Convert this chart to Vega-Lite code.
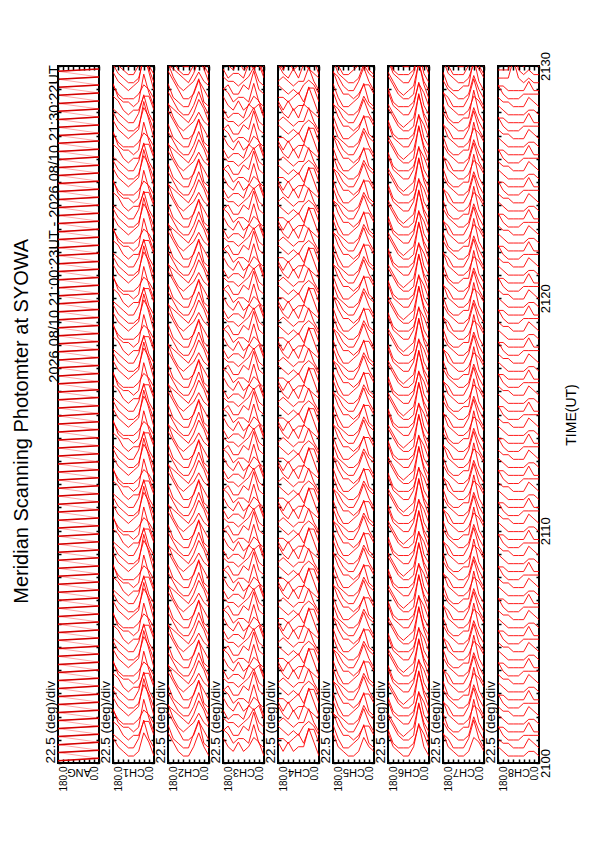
{
  "$schema": "https://vega.github.io/schema/vega-lite/v6.json",
  "background": "white",
  "padding": {"left": 12, "top": 50, "right": 5, "bottom": 5},
  "title": {"text": "Meridian Scanning Photomter at SYOWA", "orient": "left", "anchor": "middle", "fontSize": 20, "fontWeight": "normal", "offset": 10},
  "config": {
    "font": "Liberation Sans",
    "title": {"color": "black"},
    "view": {"stroke": "black", "strokeWidth": 2},
    "line": {"color": "red", "strokeWidth": 0.9},
    "axis": {"domain": false, "grid": false, "tickColor": "black", "tickWidth": 1.5, "labelColor": "black", "titleColor": "black", "titleFontWeight": "normal", "labelFlush": false, "labelOverlap": false, "labelBound": false},
    "axisBottom": {"tickSize": -4, "labelAngle": 270, "labelFontSize": 10, "labelPadding": 7, "titleAngle": 180, "titleFontSize": 11, "titleBaseline": "bottom", "titleY": 3},
    "axisTop": {"tickSize": -4, "labels": false},
    "axisLeft": {"tickSize": -3, "labels": false, "titleFontSize": 13.5, "titleAnchor": "start", "titleAngle": 270, "titlePadding": 0},
    "axisRight": {"tickSize": -3, "labels": false}
  },
  "datasets": {
    "scans": [
      {"t":0.1,"a":[180,157.5,135,112.5,90,67.5,45,22.5,0],"c1":[5,3,2,1,1,2,6,4,1],"c2":[6,4,2,1,1,3,6,3,1],"c3":[5,3,2,4,2,3,5,4,1],"c4":[4,2,4,2,3,3,7,4,1],"c5":[6,3,2,1,1,2,5,3,2],"c6":[6,3,2,1,1,3,8,3,1],"c7":[6,3,2,1,1,2,5,4,2],"c8":[3,2,1,1,1,1,2,2,1]},
      {"t":0.45,"a":[180,157.5,135,112.5,90,67.5,45,22.5,0],"c1":[4,3,2,1,1,3,7,3,1],"c2":[6,3,2,1,1,4,7,2,1],"c3":[5,4,2,3,3,2,6,2,1],"c4":[3,3,2,3,4,2,5,5,2],"c5":[6,3,1,1,2,3,6,2,1],"c6":[5,2,1,1,1,2,6,4,1],"c7":[4,3,1,1,1,3,7,3,1],"c8":[3,2,2,1,1,1,3,2,1]},
      {"t":0.79,"a":[180,157.5,135,112.5,90,67.5,45,22.5,0],"c1":[5,4,2,1,2,2,5,5,2],"c2":[7,5,3,1,1,2,5,3,1],"c3":[3,4,2,2,4,3,7,3,2],"c4":[4,3,2,3,2,4,5,4,2],"c5":[7,4,2,2,1,2,4,4,2],"c6":[6,4,2,1,1,2,9,4,1],"c7":[5,3,2,1,1,2,6,3,1],"c8":[4,2,1,1,1,2,2,2,2]},
      {"t":1.14,"a":[180,157.5,135,112.5,90,67.5,45,22.5,0],"c1":[6,3,2,2,1,2,8,4,1],"c2":[7,4,2,1,2,3,5,3,2],"c3":[4,3,3,2,3,4,6,3,2],"c4":[3,4,3,2,3,3,6,3,1],"c5":[5,4,2,1,1,3,6,3,1],"c6":[5,3,1,0,1,2,7,3,1],"c7":[5,2,1,1,2,2,8,3,1],"c8":[2,2,1,1,1,1,3,1,1]},
      {"t":1.48,"a":[180,157.5,135,112.5,90,67.5,45,22.5,0],"c1":[4,2,1,1,1,2,4,3,1],"c2":[5,4,3,2,1,3,6,4,1],"c3":[4,2,3,3,2,5,4,5,2],"c4":[5,3,2,4,2,5,4,3,2],"c5":[6,3,2,1,1,2,5,3,2],"c6":[6,3,2,1,1,3,8,3,1],"c7":[6,3,2,1,1,2,5,4,2],"c8":[3,2,1,1,1,1,2,2,1]},
      {"t":1.83,"a":[180,157.5,135,112.5,90,67.5,45,22.5,0],"c1":[5,3,2,1,2,3,9,5,1],"c2":[6,4,2,1,1,3,6,3,1],"c3":[5,3,2,4,2,3,5,4,1],"c4":[4,2,4,2,3,3,7,4,1],"c5":[6,3,1,1,2,3,6,2,1],"c6":[5,2,1,1,1,2,6,4,1],"c7":[4,3,1,1,1,3,7,3,1],"c8":[3,2,2,1,1,1,3,2,1]},
      {"t":2.17,"a":[180,157.5,135,112.5,90,67.5,45,22.5,0],"c1":[5,3,2,1,1,2,6,4,1],"c2":[6,3,2,1,1,4,7,2,1],"c3":[5,4,2,3,3,2,6,2,1],"c4":[3,3,2,3,4,2,5,5,2],"c5":[7,4,2,2,1,2,4,4,2],"c6":[6,4,2,1,1,2,9,4,1],"c7":[5,3,2,1,1,2,6,3,1],"c8":[4,2,1,1,1,2,2,2,2]},
      {"t":2.52,"a":[180,157.5,135,112.5,90,67.5,45,22.5,0],"c1":[4,3,2,1,1,3,7,3,1],"c2":[7,5,3,1,1,2,5,3,1],"c3":[3,4,2,2,4,3,7,3,2],"c4":[4,3,2,3,2,4,5,4,2],"c5":[5,4,2,1,1,3,6,3,1],"c6":[5,3,1,0,1,2,7,3,1],"c7":[5,2,1,1,2,2,8,3,1],"c8":[2,2,1,1,1,1,3,1,1]},
      {"t":2.86,"a":[180,157.5,135,112.5,90,67.5,45,22.5,0],"c1":[5,4,2,1,2,2,5,5,2],"c2":[7,4,2,1,2,3,5,3,2],"c3":[4,3,3,2,3,4,6,3,2],"c4":[3,4,3,2,3,3,6,3,1],"c5":[6,3,2,1,1,2,5,3,2],"c6":[6,3,2,1,1,3,8,3,1],"c7":[6,3,2,1,1,2,5,4,2],"c8":[3,2,1,1,1,1,2,2,1]},
      {"t":3.21,"a":[180,157.5,135,112.5,90,67.5,45,22.5,0],"c1":[6,3,2,2,1,2,8,4,1],"c2":[5,4,3,2,1,3,6,4,1],"c3":[4,2,3,3,2,5,4,5,2],"c4":[5,3,2,4,2,5,4,3,2],"c5":[6,3,1,1,2,3,6,2,1],"c6":[5,2,1,1,1,2,6,4,1],"c7":[4,3,1,1,1,3,7,3,1],"c8":[3,2,2,1,1,1,3,2,1]},
      {"t":3.55,"a":[180,157.5,135,112.5,90,67.5,45,22.5,0],"c1":[4,2,1,1,1,2,4,3,1],"c2":[6,4,2,1,1,3,6,3,1],"c3":[5,3,2,4,2,3,5,4,1],"c4":[4,2,4,2,3,3,7,4,1],"c5":[7,4,2,2,1,2,4,4,2],"c6":[6,4,2,1,1,2,9,4,1],"c7":[5,3,2,1,1,2,6,3,1],"c8":[4,2,1,1,1,2,2,2,2]},
      {"t":3.9,"a":[180,157.5,135,112.5,90,67.5,45,22.5,0],"c1":[5,3,2,1,2,3,9,5,1],"c2":[6,3,2,1,1,4,7,2,1],"c3":[5,4,2,3,3,2,6,2,1],"c4":[3,3,2,3,4,2,5,5,2],"c5":[5,4,2,1,1,3,6,3,1],"c6":[5,3,1,0,1,2,7,3,1],"c7":[5,2,1,1,2,2,8,3,1],"c8":[2,2,1,1,1,1,3,1,1]},
      {"t":4.24,"a":[180,157.5,135,112.5,90,67.5,45,22.5,0],"c1":[5,3,2,1,1,2,6,4,1],"c2":[7,5,3,1,1,2,5,3,1],"c3":[3,4,2,2,4,3,7,3,2],"c4":[4,3,2,3,2,4,5,4,2],"c5":[6,3,2,1,1,2,5,3,2],"c6":[6,3,2,1,1,3,8,3,1],"c7":[6,3,2,1,1,2,5,4,2],"c8":[3,2,1,1,1,1,2,2,1]},
      {"t":4.59,"a":[180,157.5,135,112.5,90,67.5,45,22.5,0],"c1":[4,3,2,1,1,3,7,3,1],"c2":[7,4,2,1,2,3,5,3,2],"c3":[4,3,3,2,3,4,6,3,2],"c4":[3,4,3,2,3,3,6,3,1],"c5":[6,3,1,1,2,3,6,2,1],"c6":[5,2,1,1,1,2,6,4,1],"c7":[4,3,1,1,1,3,7,3,1],"c8":[3,2,2,1,1,1,3,2,1]},
      {"t":4.93,"a":[180,157.5,135,112.5,90,67.5,45,22.5,0],"c1":[5,4,2,1,2,2,5,5,2],"c2":[5,4,3,2,1,3,6,4,1],"c3":[4,2,3,3,2,5,4,5,2],"c4":[5,3,2,4,2,5,4,3,2],"c5":[7,4,2,2,1,2,4,4,2],"c6":[6,4,2,1,1,2,9,4,1],"c7":[5,3,2,1,1,2,6,3,1],"c8":[4,2,1,1,1,2,2,2,2]},
      {"t":5.28,"a":[180,157.5,135,112.5,90,67.5,45,22.5,0],"c1":[6,3,2,2,1,2,8,4,1],"c2":[6,4,2,1,1,3,6,3,1],"c3":[5,3,2,4,2,3,5,4,1],"c4":[4,2,4,2,3,3,7,4,1],"c5":[5,4,2,1,1,3,6,3,1],"c6":[5,3,1,0,1,2,7,3,1],"c7":[5,2,1,1,2,2,8,3,1],"c8":[2,2,1,1,1,1,3,1,1]},
      {"t":5.62,"a":[180,157.5,135,112.5,90,67.5,45,22.5,0],"c1":[4,2,1,1,1,2,4,3,1],"c2":[6,3,2,1,1,4,7,2,1],"c3":[5,4,2,3,3,2,6,2,1],"c4":[3,3,2,3,4,2,5,5,2],"c5":[6,3,2,1,1,2,5,3,2],"c6":[6,3,2,1,1,3,8,3,1],"c7":[6,3,2,1,1,2,5,4,2],"c8":[3,2,1,1,1,1,2,2,1]},
      {"t":5.97,"a":[180,157.5,135,112.5,90,67.5,45,22.5,0],"c1":[5,3,2,1,2,3,9,5,1],"c2":[7,5,3,1,1,2,5,3,1],"c3":[3,4,2,2,4,3,7,3,2],"c4":[4,3,2,3,2,4,5,4,2],"c5":[6,3,1,1,2,3,6,2,1],"c6":[5,2,1,1,1,2,6,4,1],"c7":[4,3,1,1,1,3,7,3,1],"c8":[3,2,2,1,1,1,3,2,1]},
      {"t":6.31,"a":[180,157.5,135,112.5,90,67.5,45,22.5,0],"c1":[5,3,2,1,1,2,6,4,1],"c2":[7,4,2,1,2,3,5,3,2],"c3":[4,3,3,2,3,4,6,3,2],"c4":[3,4,3,2,3,3,6,3,1],"c5":[7,4,2,2,1,2,4,4,2],"c6":[6,4,2,1,1,2,9,4,1],"c7":[5,3,2,1,1,2,6,3,1],"c8":[4,2,1,1,1,2,2,2,2]},
      {"t":6.66,"a":[180,157.5,135,112.5,90,67.5,45,22.5,0],"c1":[4,3,2,1,1,3,7,3,1],"c2":[5,4,3,2,1,3,6,4,1],"c3":[4,2,3,3,2,5,4,5,2],"c4":[5,3,2,4,2,5,4,3,2],"c5":[5,4,2,1,1,3,6,3,1],"c6":[5,3,1,0,1,2,7,3,1],"c7":[5,2,1,1,2,2,8,3,1],"c8":[2,2,1,1,1,1,3,1,1]},
      {"t":7.0,"a":[180,157.5,135,112.5,90,67.5,45,22.5,0],"c1":[5,4,2,1,2,2,5,5,2],"c2":[6,4,2,1,1,3,6,3,1],"c3":[5,3,2,4,2,3,5,4,1],"c4":[4,2,4,2,3,3,7,4,1],"c5":[6,3,2,1,1,2,5,3,2],"c6":[6,3,2,1,1,3,8,3,1],"c7":[6,3,2,1,1,2,5,4,2],"c8":[3,2,1,1,1,1,2,2,1]},
      {"t":7.35,"a":[180,157.5,135,112.5,90,67.5,45,22.5,0],"c1":[6,3,2,2,1,2,8,4,1],"c2":[6,3,2,1,1,4,7,2,1],"c3":[5,4,2,3,3,2,6,2,1],"c4":[3,3,2,3,4,2,5,5,2],"c5":[6,3,1,1,2,3,6,2,1],"c6":[5,2,1,1,1,2,6,4,1],"c7":[4,3,1,1,1,3,7,3,1],"c8":[3,2,2,1,1,1,3,2,1]},
      {"t":7.69,"a":[180,157.5,135,112.5,90,67.5,45,22.5,0],"c1":[4,2,1,1,1,2,4,3,1],"c2":[7,5,3,1,1,2,5,3,1],"c3":[3,4,2,2,4,3,7,3,2],"c4":[4,3,2,3,2,4,5,4,2],"c5":[7,4,2,2,1,2,4,4,2],"c6":[6,4,2,1,1,2,9,4,1],"c7":[5,3,2,1,1,2,6,3,1],"c8":[4,2,1,1,1,2,2,2,2]},
      {"t":8.04,"a":[180,157.5,135,112.5,90,67.5,45,22.5,0],"c1":[5,3,2,1,2,3,9,5,1],"c2":[7,4,2,1,2,3,5,3,2],"c3":[4,3,3,2,3,4,6,3,2],"c4":[3,4,3,2,3,3,6,3,1],"c5":[5,4,2,1,1,3,6,3,1],"c6":[5,3,1,0,1,2,7,3,1],"c7":[5,2,1,1,2,2,8,3,1],"c8":[2,2,1,1,1,1,3,1,1]},
      {"t":8.38,"a":[180,157.5,135,112.5,90,67.5,45,22.5,0],"c1":[5,3,2,1,1,2,6,4,1],"c2":[5,4,3,2,1,3,6,4,1],"c3":[4,2,3,3,2,5,4,5,2],"c4":[5,3,2,4,2,5,4,3,2],"c5":[6,3,2,1,1,2,5,3,2],"c6":[6,3,2,1,1,3,8,3,1],"c7":[6,3,2,1,1,2,5,4,2],"c8":[3,2,1,1,1,1,2,2,1]},
      {"t":8.73,"a":[180,157.5,135,112.5,90,67.5,45,22.5,0],"c1":[4,3,2,1,1,3,7,3,1],"c2":[6,4,2,1,1,3,6,3,1],"c3":[5,3,2,4,2,3,5,4,1],"c4":[4,2,4,2,3,3,7,4,1],"c5":[6,3,1,1,2,3,6,2,1],"c6":[5,2,1,1,1,2,6,4,1],"c7":[4,3,1,1,1,3,7,3,1],"c8":[3,2,2,1,1,1,3,2,1]},
      {"t":9.07,"a":[180,157.5,135,112.5,90,67.5,45,22.5,0],"c1":[5,4,2,1,2,2,5,5,2],"c2":[6,3,2,1,1,4,7,2,1],"c3":[5,4,2,3,3,2,6,2,1],"c4":[3,3,2,3,4,2,5,5,2],"c5":[7,4,2,2,1,2,4,4,2],"c6":[6,4,2,1,1,2,9,4,1],"c7":[5,3,2,1,1,2,6,3,1],"c8":[4,2,1,1,1,2,2,2,2]},
      {"t":9.42,"a":[180,157.5,135,112.5,90,67.5,45,22.5,0],"c1":[6,3,2,2,1,2,8,4,1],"c2":[7,5,3,1,1,2,5,3,1],"c3":[3,4,2,2,4,3,7,3,2],"c4":[4,3,2,3,2,4,5,4,2],"c5":[5,4,2,1,1,3,6,3,1],"c6":[5,3,1,0,1,2,7,3,1],"c7":[5,2,1,1,2,2,8,3,1],"c8":[2,2,1,1,1,1,3,1,1]},
      {"t":9.76,"a":[180,157.5,135,112.5,90,67.5,45,22.5,0],"c1":[4,2,1,1,1,2,4,3,1],"c2":[7,4,2,1,2,3,5,3,2],"c3":[4,3,3,2,3,4,6,3,2],"c4":[3,4,3,2,3,3,6,3,1],"c5":[6,3,2,1,1,2,5,3,2],"c6":[6,3,2,1,1,3,8,3,1],"c7":[6,3,2,1,1,2,5,4,2],"c8":[3,2,1,1,1,1,2,2,1]},
      {"t":10.11,"a":[180,157.5,135,112.5,90,67.5,45,22.5,0],"c1":[5,3,2,1,2,3,9,5,1],"c2":[5,4,3,2,1,3,6,4,1],"c3":[4,2,3,3,2,5,4,5,2],"c4":[5,3,2,4,2,5,4,3,2],"c5":[6,3,1,1,2,3,6,2,1],"c6":[5,2,1,1,1,2,6,4,1],"c7":[4,3,1,1,1,3,7,3,1],"c8":[3,2,2,1,1,1,3,2,1]},
      {"t":10.45,"a":[180,157.5,135,112.5,90,67.5,45,22.5,0],"c1":[5,3,2,1,1,2,6,4,1],"c2":[6,4,2,1,1,3,6,3,1],"c3":[5,3,2,4,2,3,5,4,1],"c4":[4,2,4,2,3,3,7,4,1],"c5":[7,4,2,2,1,2,4,4,2],"c6":[6,4,2,1,1,2,9,4,1],"c7":[5,3,2,1,1,2,6,3,1],"c8":[4,2,1,1,1,2,2,2,2]},
      {"t":10.8,"a":[180,157.5,135,112.5,90,67.5,45,22.5,0],"c1":[4,3,2,1,1,3,7,3,1],"c2":[6,3,2,1,1,4,7,2,1],"c3":[5,4,2,3,3,2,6,2,1],"c4":[3,3,2,3,4,2,5,5,2],"c5":[5,4,2,1,1,3,6,3,1],"c6":[5,3,1,0,1,2,7,3,1],"c7":[5,2,1,1,2,2,8,3,1],"c8":[2,2,1,1,1,1,3,1,1]},
      {"t":11.14,"a":[180,157.5,135,112.5,90,67.5,45,22.5,0],"c1":[5,4,2,1,2,2,5,5,2],"c2":[7,5,3,1,1,2,5,3,1],"c3":[3,4,2,2,4,3,7,3,2],"c4":[4,3,2,3,2,4,5,4,2],"c5":[6,3,2,1,1,2,5,3,2],"c6":[6,3,2,1,1,3,8,3,1],"c7":[6,3,2,1,1,2,5,4,2],"c8":[3,2,1,1,1,1,2,2,1]},
      {"t":11.49,"a":[180,157.5,135,112.5,90,67.5,45,22.5,0],"c1":[6,3,2,2,1,2,8,4,1],"c2":[7,4,2,1,2,3,5,3,2],"c3":[4,3,3,2,3,4,6,3,2],"c4":[3,4,3,2,3,3,6,3,1],"c5":[6,3,1,1,2,3,6,2,1],"c6":[5,2,1,1,1,2,6,4,1],"c7":[4,3,1,1,1,3,7,3,1],"c8":[3,2,2,1,1,1,3,2,1]},
      {"t":11.83,"a":[180,157.5,135,112.5,90,67.5,45,22.5,0],"c1":[4,2,1,1,1,2,4,3,1],"c2":[5,4,3,2,1,3,6,4,1],"c3":[4,2,3,3,2,5,4,5,2],"c4":[5,3,2,4,2,5,4,3,2],"c5":[7,4,2,2,1,2,4,4,2],"c6":[6,4,2,1,1,2,9,4,1],"c7":[5,3,2,1,1,2,6,3,1],"c8":[4,2,1,1,1,2,2,2,2]},
      {"t":12.18,"a":[180,157.5,135,112.5,90,67.5,45,22.5,0],"c1":[5,3,2,1,2,3,9,5,1],"c2":[6,4,2,1,1,3,6,3,1],"c3":[5,3,2,4,2,3,5,4,1],"c4":[4,2,4,2,3,3,7,4,1],"c5":[5,4,2,1,1,3,6,3,1],"c6":[5,3,1,0,1,2,7,3,1],"c7":[5,2,1,1,2,2,8,3,1],"c8":[2,2,1,1,1,1,3,1,1]},
      {"t":12.52,"a":[180,157.5,135,112.5,90,67.5,45,22.5,0],"c1":[5,3,2,1,1,2,6,4,1],"c2":[6,3,2,1,1,4,7,2,1],"c3":[5,4,2,3,3,2,6,2,1],"c4":[3,3,2,3,4,2,5,5,2],"c5":[6,3,2,1,1,2,5,3,2],"c6":[6,3,2,1,1,3,8,3,1],"c7":[6,3,2,1,1,2,5,4,2],"c8":[3,2,1,1,1,1,2,2,1]},
      {"t":12.87,"a":[180,157.5,135,112.5,90,67.5,45,22.5,0],"c1":[4,3,2,1,1,3,7,3,1],"c2":[7,5,3,1,1,2,5,3,1],"c3":[3,4,2,2,4,3,7,3,2],"c4":[4,3,2,3,2,4,5,4,2],"c5":[6,3,1,1,2,3,6,2,1],"c6":[5,2,1,1,1,2,6,4,1],"c7":[4,3,1,1,1,3,7,3,1],"c8":[3,2,2,1,1,1,3,2,1]},
      {"t":13.21,"a":[180,157.5,135,112.5,90,67.5,45,22.5,0],"c1":[5,4,2,1,2,2,5,5,2],"c2":[7,4,2,1,2,3,5,3,2],"c3":[4,3,3,2,3,4,6,3,2],"c4":[3,4,3,2,3,3,6,3,1],"c5":[7,4,2,2,1,2,4,4,2],"c6":[6,4,2,1,1,2,9,4,1],"c7":[5,3,2,1,1,2,6,3,1],"c8":[4,2,1,1,1,2,2,2,2]},
      {"t":13.56,"a":[180,157.5,135,112.5,90,67.5,45,22.5,0],"c1":[6,3,2,2,1,2,8,4,1],"c2":[5,4,3,2,1,3,6,4,1],"c3":[4,2,3,3,2,5,4,5,2],"c4":[5,3,2,4,2,5,4,3,2],"c5":[5,4,2,1,1,3,6,3,1],"c6":[5,3,1,0,1,2,7,3,1],"c7":[5,2,1,1,2,2,8,3,1],"c8":[2,2,1,1,1,1,3,1,1]},
      {"t":13.9,"a":[180,157.5,135,112.5,90,67.5,45,22.5,0],"c1":[4,2,1,1,1,2,4,3,1],"c2":[6,4,2,1,1,3,6,3,1],"c3":[5,3,2,4,2,3,5,4,1],"c4":[4,2,4,2,3,3,7,4,1],"c5":[6,3,2,1,1,2,5,3,2],"c6":[6,3,2,1,1,3,8,3,1],"c7":[6,3,2,1,1,2,5,4,2],"c8":[3,2,1,1,1,1,2,2,1]},
      {"t":14.25,"a":[180,157.5,135,112.5,90,67.5,45,22.5,0],"c1":[5,3,2,1,2,3,9,5,1],"c2":[6,3,2,1,1,4,7,2,1],"c3":[5,4,2,3,3,2,6,2,1],"c4":[3,3,2,3,4,2,5,5,2],"c5":[6,3,1,1,2,3,6,2,1],"c6":[5,2,1,1,1,2,6,4,1],"c7":[4,3,1,1,1,3,7,3,1],"c8":[3,2,2,1,1,1,3,2,1]},
      {"t":14.59,"a":[180,157.5,135,112.5,90,67.5,45,22.5,0],"c1":[5,3,2,1,1,2,6,4,1],"c2":[7,5,3,1,1,2,5,3,1],"c3":[3,4,2,2,4,3,7,3,2],"c4":[4,3,2,3,2,4,5,4,2],"c5":[7,4,2,2,1,2,4,4,2],"c6":[6,4,2,1,1,2,9,4,1],"c7":[5,3,2,1,1,2,6,3,1],"c8":[4,2,1,1,1,2,2,2,2]},
      {"t":14.94,"a":[180,157.5,135,112.5,90,67.5,45,22.5,0],"c1":[4,3,2,1,1,3,7,3,1],"c2":[7,4,2,1,2,3,5,3,2],"c3":[4,3,3,2,3,4,6,3,2],"c4":[3,4,3,2,3,3,6,3,1],"c5":[5,4,2,1,1,3,6,3,1],"c6":[5,3,1,0,1,2,7,3,1],"c7":[5,2,1,1,2,2,8,3,1],"c8":[2,2,1,1,1,1,3,1,1]},
      {"t":15.28,"a":[180,157.5,135,112.5,90,67.5,45,22.5,0],"c1":[5,4,2,1,2,2,5,5,2],"c2":[5,4,3,2,1,3,6,4,1],"c3":[4,2,3,3,2,5,4,5,2],"c4":[5,3,2,4,2,5,4,3,2],"c5":[6,3,2,1,1,2,5,3,2],"c6":[6,3,2,1,1,3,8,3,1],"c7":[6,3,2,1,1,2,5,4,2],"c8":[3,2,1,1,1,1,2,2,1]},
      {"t":15.63,"a":[180,157.5,135,112.5,90,67.5,45,22.5,0],"c1":[6,3,2,2,1,2,8,4,1],"c2":[6,4,2,1,1,3,6,3,1],"c3":[5,3,2,4,2,3,5,4,1],"c4":[4,2,4,2,3,3,7,4,1],"c5":[6,3,1,1,2,3,6,2,1],"c6":[5,2,1,1,1,2,6,4,1],"c7":[4,3,1,1,1,3,7,3,1],"c8":[3,2,2,1,1,1,3,2,1]},
      {"t":15.97,"a":[180,157.5,135,112.5,90,67.5,45,22.5,0],"c1":[4,2,1,1,1,2,4,3,1],"c2":[6,3,2,1,1,4,7,2,1],"c3":[5,4,2,3,3,2,6,2,1],"c4":[3,3,2,3,4,2,5,5,2],"c5":[7,4,2,2,1,2,4,4,2],"c6":[6,4,2,1,1,2,9,4,1],"c7":[5,3,2,1,1,2,6,3,1],"c8":[4,2,1,1,1,2,2,2,2]},
      {"t":16.32,"a":[180,157.5,135,112.5,90,67.5,45,22.5,0],"c1":[5,3,2,1,2,3,9,5,1],"c2":[7,5,3,1,1,2,5,3,1],"c3":[3,4,2,2,4,3,7,3,2],"c4":[4,3,2,3,2,4,5,4,2],"c5":[5,4,2,1,1,3,6,3,1],"c6":[5,3,1,0,1,2,7,3,1],"c7":[5,2,1,1,2,2,8,3,1],"c8":[2,2,1,1,1,1,3,1,1]},
      {"t":16.66,"a":[180,157.5,135,112.5,90,67.5,45,22.5,0],"c1":[5,3,2,1,1,2,6,4,1],"c2":[7,4,2,1,2,3,5,3,2],"c3":[4,3,3,2,3,4,6,3,2],"c4":[3,4,3,2,3,3,6,3,1],"c5":[6,3,2,1,1,2,5,3,2],"c6":[6,3,2,1,1,3,8,3,1],"c7":[6,3,2,1,1,2,5,4,2],"c8":[3,2,1,1,1,1,2,2,1]},
      {"t":17.01,"a":[180,157.5,135,112.5,90,67.5,45,22.5,0],"c1":[4,3,2,1,1,3,7,3,1],"c2":[5,4,3,2,1,3,6,4,1],"c3":[4,2,3,3,2,5,4,5,2],"c4":[5,3,2,4,2,5,4,3,2],"c5":[6,3,1,1,2,3,6,2,1],"c6":[5,2,1,1,1,2,6,4,1],"c7":[4,3,1,1,1,3,7,3,1],"c8":[3,2,2,1,1,1,3,2,1]},
      {"t":17.35,"a":[180,157.5,135,112.5,90,67.5,45,22.5,0],"c1":[5,4,2,1,2,2,5,5,2],"c2":[6,4,2,1,1,3,6,3,1],"c3":[5,3,2,4,2,3,5,4,1],"c4":[4,2,4,2,3,3,7,4,1],"c5":[7,4,2,2,1,2,4,4,2],"c6":[6,4,2,1,1,2,9,4,1],"c7":[5,3,2,1,1,2,6,3,1],"c8":[4,2,1,1,1,2,2,2,2]},
      {"t":17.7,"a":[180,157.5,135,112.5,90,67.5,45,22.5,0],"c1":[6,3,2,2,1,2,8,4,1],"c2":[6,3,2,1,1,4,7,2,1],"c3":[5,4,2,3,3,2,6,2,1],"c4":[3,3,2,3,4,2,5,5,2],"c5":[5,4,2,1,1,3,6,3,1],"c6":[5,3,1,0,1,2,7,3,1],"c7":[5,2,1,1,2,2,8,3,1],"c8":[2,2,1,1,1,1,3,1,1]},
      {"t":18.04,"a":[180,157.5,135,112.5,90,67.5,45,22.5,0],"c1":[4,2,1,1,1,2,4,3,1],"c2":[7,5,3,1,1,2,5,3,1],"c3":[3,4,2,2,4,3,7,3,2],"c4":[4,3,2,3,2,4,5,4,2],"c5":[6,3,2,1,1,2,5,3,2],"c6":[6,3,2,1,1,3,8,3,1],"c7":[6,3,2,1,1,2,5,4,2],"c8":[3,2,1,1,1,1,2,2,1]},
      {"t":18.39,"a":[180,157.5,135,112.5,90,67.5,45,22.5,0],"c1":[5,3,2,1,2,3,9,5,1],"c2":[7,4,2,1,2,3,5,3,2],"c3":[4,3,3,2,3,4,6,3,2],"c4":[3,4,3,2,3,3,6,3,1],"c5":[6,3,1,1,2,3,6,2,1],"c6":[5,2,1,1,1,2,6,4,1],"c7":[4,3,1,1,1,3,7,3,1],"c8":[3,2,2,1,1,1,3,2,1]},
      {"t":18.73,"a":[180,157.5,135,112.5,90,67.5,45,22.5,0],"c1":[5,3,2,1,1,2,6,4,1],"c2":[5,4,3,2,1,3,6,4,1],"c3":[4,2,3,3,2,5,4,5,2],"c4":[5,3,2,4,2,5,4,3,2],"c5":[7,4,2,2,1,2,4,4,2],"c6":[6,4,2,1,1,2,9,4,1],"c7":[5,3,2,1,1,2,6,3,1],"c8":[4,2,1,1,1,2,2,2,2]},
      {"t":19.08,"a":[180,157.5,135,112.5,90,67.5,45,22.5,0],"c1":[4,3,2,1,1,3,7,3,1],"c2":[6,4,2,1,1,3,6,3,1],"c3":[5,3,2,4,2,3,5,4,1],"c4":[4,2,4,2,3,3,7,4,1],"c5":[5,4,2,1,1,3,6,3,1],"c6":[5,3,1,0,1,2,7,3,1],"c7":[5,2,1,1,2,2,8,3,1],"c8":[2,2,1,1,1,1,3,1,1]},
      {"t":19.42,"a":[180,157.5,135,112.5,90,67.5,45,22.5,0],"c1":[5,4,2,1,2,2,5,5,2],"c2":[6,3,2,1,1,4,7,2,1],"c3":[5,4,2,3,3,2,6,2,1],"c4":[3,3,2,3,4,2,5,5,2],"c5":[6,3,2,1,1,2,5,3,2],"c6":[6,3,2,1,1,3,8,3,1],"c7":[6,3,2,1,1,2,5,4,2],"c8":[3,2,1,1,1,1,2,2,1]},
      {"t":19.77,"a":[180,157.5,135,112.5,90,67.5,45,22.5,0],"c1":[6,3,2,2,1,2,8,4,1],"c2":[7,5,3,1,1,2,5,3,1],"c3":[3,4,2,2,4,3,7,3,2],"c4":[4,3,2,3,2,4,5,4,2],"c5":[6,3,1,1,2,3,6,2,1],"c6":[5,2,1,1,1,2,6,4,1],"c7":[4,3,1,1,1,3,7,3,1],"c8":[3,2,2,1,1,1,3,2,1]},
      {"t":20.11,"a":[180,157.5,135,112.5,90,67.5,45,22.5,0],"c1":[4,2,1,1,1,2,4,3,1],"c2":[7,4,2,1,2,3,5,3,2],"c3":[4,3,3,2,3,4,6,3,2],"c4":[3,4,3,2,3,3,6,3,1],"c5":[7,4,2,2,1,2,4,4,2],"c6":[6,4,2,1,1,2,9,4,1],"c7":[5,3,2,1,1,2,6,3,1],"c8":[4,2,1,1,1,2,2,2,2]},
      {"t":20.46,"a":[180,157.5,135,112.5,90,67.5,45,22.5,0],"c1":[5,3,2,1,2,3,9,5,1],"c2":[5,4,3,2,1,3,6,4,1],"c3":[4,2,3,3,2,5,4,5,2],"c4":[5,3,2,4,2,5,4,3,2],"c5":[5,4,2,1,1,3,6,3,1],"c6":[5,3,1,0,1,2,7,3,1],"c7":[5,2,1,1,2,2,8,3,1],"c8":[2,2,1,1,1,1,3,1,1]},
      {"t":20.8,"a":[180,157.5,135,112.5,90,67.5,45,22.5,0],"c1":[5,3,2,1,1,2,6,4,1],"c2":[6,4,2,1,1,3,6,3,1],"c3":[5,3,2,4,2,3,5,4,1],"c4":[4,2,4,2,3,3,7,4,1],"c5":[6,3,2,1,1,2,5,3,2],"c6":[6,3,2,1,1,3,8,3,1],"c7":[6,3,2,1,1,2,5,4,2],"c8":[3,2,1,1,1,1,2,2,1]},
      {"t":21.15,"a":[180,157.5,135,112.5,90,67.5,45,22.5,0],"c1":[4,3,2,1,1,3,7,3,1],"c2":[6,3,2,1,1,4,7,2,1],"c3":[5,4,2,3,3,2,6,2,1],"c4":[3,3,2,3,4,2,5,5,2],"c5":[6,3,1,1,2,3,6,2,1],"c6":[5,2,1,1,1,2,6,4,1],"c7":[4,3,1,1,1,3,7,3,1],"c8":[3,2,2,1,1,1,3,2,1]},
      {"t":21.49,"a":[180,157.5,135,112.5,90,67.5,45,22.5,0],"c1":[5,4,2,1,2,2,5,5,2],"c2":[7,5,3,1,1,2,5,3,1],"c3":[3,4,2,2,4,3,7,3,2],"c4":[4,3,2,3,2,4,5,4,2],"c5":[7,4,2,2,1,2,4,4,2],"c6":[6,4,2,1,1,2,9,4,1],"c7":[5,3,2,1,1,2,6,3,1],"c8":[4,2,1,1,1,2,2,2,2]},
      {"t":21.84,"a":[180,157.5,135,112.5,90,67.5,45,22.5,0],"c1":[6,3,2,2,1,2,8,4,1],"c2":[7,4,2,1,2,3,5,3,2],"c3":[4,3,3,2,3,4,6,3,2],"c4":[3,4,3,2,3,3,6,3,1],"c5":[5,4,2,1,1,3,6,3,1],"c6":[5,3,1,0,1,2,7,3,1],"c7":[5,2,1,1,2,2,8,3,1],"c8":[2,2,1,1,1,1,3,1,1]},
      {"t":22.18,"a":[180,157.5,135,112.5,90,67.5,45,22.5,0],"c1":[4,2,1,1,1,2,4,3,1],"c2":[5,4,3,2,1,3,6,4,1],"c3":[4,2,3,3,2,5,4,5,2],"c4":[5,3,2,4,2,5,4,3,2],"c5":[6,3,2,1,1,2,5,3,2],"c6":[6,3,2,1,1,3,8,3,1],"c7":[6,3,2,1,1,2,5,4,2],"c8":[3,2,1,1,1,1,2,2,1]},
      {"t":22.53,"a":[180,157.5,135,112.5,90,67.5,45,22.5,0],"c1":[5,3,2,1,2,3,9,5,1],"c2":[6,4,2,1,1,3,6,3,1],"c3":[5,3,2,4,2,3,5,4,1],"c4":[4,2,4,2,3,3,7,4,1],"c5":[6,3,1,1,2,3,6,2,1],"c6":[5,2,1,1,1,2,6,4,1],"c7":[4,3,1,1,1,3,7,3,1],"c8":[3,2,2,1,1,1,3,2,1]},
      {"t":22.87,"a":[180,157.5,135,112.5,90,67.5,45,22.5,0],"c1":[5,3,2,1,1,2,6,4,1],"c2":[6,3,2,1,1,4,7,2,1],"c3":[5,4,2,3,3,2,6,2,1],"c4":[3,3,2,3,4,2,5,5,2],"c5":[7,4,2,2,1,2,4,4,2],"c6":[6,4,2,1,1,2,9,4,1],"c7":[5,3,2,1,1,2,6,3,1],"c8":[4,2,1,1,1,2,2,2,2]},
      {"t":23.22,"a":[180,157.5,135,112.5,90,67.5,45,22.5,0],"c1":[4,3,2,1,1,3,7,3,1],"c2":[7,5,3,1,1,2,5,3,1],"c3":[3,4,2,2,4,3,7,3,2],"c4":[4,3,2,3,2,4,5,4,2],"c5":[5,4,2,1,1,3,6,3,1],"c6":[5,3,1,0,1,2,7,3,1],"c7":[5,2,1,1,2,2,8,3,1],"c8":[2,2,1,1,1,1,3,1,1]},
      {"t":23.56,"a":[180,157.5,135,112.5,90,67.5,45,22.5,0],"c1":[5,4,2,1,2,2,5,5,2],"c2":[7,4,2,1,2,3,5,3,2],"c3":[4,3,3,2,3,4,6,3,2],"c4":[3,4,3,2,3,3,6,3,1],"c5":[6,3,2,1,1,2,5,3,2],"c6":[6,3,2,1,1,3,8,3,1],"c7":[6,3,2,1,1,2,5,4,2],"c8":[3,2,1,1,1,1,2,2,1]},
      {"t":23.91,"a":[180,157.5,135,112.5,90,67.5,45,22.5,0],"c1":[6,3,2,2,1,2,8,4,1],"c2":[5,4,3,2,1,3,6,4,1],"c3":[4,2,3,3,2,5,4,5,2],"c4":[5,3,2,4,2,5,4,3,2],"c5":[6,3,1,1,2,3,6,2,1],"c6":[5,2,1,1,1,2,6,4,1],"c7":[4,3,1,1,1,3,7,3,1],"c8":[3,2,2,1,1,1,3,2,1]},
      {"t":24.25,"a":[180,157.5,135,112.5,90,67.5,45,22.5,0],"c1":[4,2,1,1,1,2,4,3,1],"c2":[6,4,2,1,1,3,6,3,1],"c3":[5,3,2,4,2,3,5,4,1],"c4":[4,2,4,2,3,3,7,4,1],"c5":[7,4,2,2,1,2,4,4,2],"c6":[6,4,2,1,1,2,9,4,1],"c7":[5,3,2,1,1,2,6,3,1],"c8":[4,2,1,1,1,2,2,2,2]},
      {"t":24.6,"a":[180,157.5,135,112.5,90,67.5,45,22.5,0],"c1":[5,3,2,1,2,3,9,5,1],"c2":[6,3,2,1,1,4,7,2,1],"c3":[5,4,2,3,3,2,6,2,1],"c4":[3,3,2,3,4,2,5,5,2],"c5":[5,4,2,1,1,3,6,3,1],"c6":[5,3,1,0,1,2,7,3,1],"c7":[5,2,1,1,2,2,8,3,1],"c8":[2,2,1,1,1,1,3,1,1]},
      {"t":24.94,"a":[180,157.5,135,112.5,90,67.5,45,22.5,0],"c1":[5,3,2,1,1,2,6,4,1],"c2":[7,5,3,1,1,2,5,3,1],"c3":[3,4,2,2,4,3,7,3,2],"c4":[4,3,2,3,2,4,5,4,2],"c5":[6,3,2,1,1,2,5,3,2],"c6":[6,3,2,1,1,3,8,3,1],"c7":[6,3,2,1,1,2,5,4,2],"c8":[3,2,1,1,1,1,2,2,1]},
      {"t":25.29,"a":[180,157.5,135,112.5,90,67.5,45,22.5,0],"c1":[4,3,2,1,1,3,7,3,1],"c2":[7,4,2,1,2,3,5,3,2],"c3":[4,3,3,2,3,4,6,3,2],"c4":[3,4,3,2,3,3,6,3,1],"c5":[6,3,1,1,2,3,6,2,1],"c6":[5,2,1,1,1,2,6,4,1],"c7":[4,3,1,1,1,3,7,3,1],"c8":[3,2,2,1,1,1,3,2,1]},
      {"t":25.63,"a":[180,157.5,135,112.5,90,67.5,45,22.5,0],"c1":[5,4,2,1,2,2,5,5,2],"c2":[5,4,3,2,1,3,6,4,1],"c3":[4,2,3,3,2,5,4,5,2],"c4":[5,3,2,4,2,5,4,3,2],"c5":[7,4,2,2,1,2,4,4,2],"c6":[6,4,2,1,1,2,9,4,1],"c7":[5,3,2,1,1,2,6,3,1],"c8":[4,2,1,1,1,2,2,2,2]},
      {"t":25.98,"a":[180,157.5,135,112.5,90,67.5,45,22.5,0],"c1":[6,3,2,2,1,2,8,4,1],"c2":[6,4,2,1,1,3,6,3,1],"c3":[5,3,2,4,2,3,5,4,1],"c4":[4,2,4,2,3,3,7,4,1],"c5":[5,4,2,1,1,3,6,3,1],"c6":[5,3,1,0,1,2,7,3,1],"c7":[5,2,1,1,2,2,8,3,1],"c8":[2,2,1,1,1,1,3,1,1]},
      {"t":26.32,"a":[180,157.5,135,112.5,90,67.5,45,22.5,0],"c1":[4,2,1,1,1,2,4,3,1],"c2":[6,3,2,1,1,4,7,2,1],"c3":[5,4,2,3,3,2,6,2,1],"c4":[3,3,2,3,4,2,5,5,2],"c5":[6,3,2,1,1,2,5,3,2],"c6":[6,3,2,1,1,3,8,3,1],"c7":[6,3,2,1,1,2,5,4,2],"c8":[3,2,1,1,1,1,2,2,1]},
      {"t":26.67,"a":[180,157.5,135,112.5,90,67.5,45,22.5,0],"c1":[5,3,2,1,2,3,9,5,1],"c2":[7,5,3,1,1,2,5,3,1],"c3":[3,4,2,2,4,3,7,3,2],"c4":[4,3,2,3,2,4,5,4,2],"c5":[6,3,1,1,2,3,6,2,1],"c6":[5,2,1,1,1,2,6,4,1],"c7":[4,3,1,1,1,3,7,3,1],"c8":[3,2,2,1,1,1,3,2,1]},
      {"t":27.01,"a":[180,157.5,135,112.5,90,67.5,45,22.5,0],"c1":[5,3,2,1,1,2,6,4,1],"c2":[7,4,2,1,2,3,5,3,2],"c3":[4,3,3,2,3,4,6,3,2],"c4":[3,4,3,2,3,3,6,3,1],"c5":[7,4,2,2,1,2,4,4,2],"c6":[6,4,2,1,1,2,9,4,1],"c7":[5,3,2,1,1,2,6,3,1],"c8":[4,2,1,1,1,2,2,2,2]},
      {"t":27.36,"a":[180,157.5,135,112.5,90,67.5,45,22.5,0],"c1":[4,3,2,1,1,3,7,3,1],"c2":[5,4,3,2,1,3,6,4,1],"c3":[4,2,3,3,2,5,4,5,2],"c4":[5,3,2,4,2,5,4,3,2],"c5":[5,4,2,1,1,3,6,3,1],"c6":[5,3,1,0,1,2,7,3,1],"c7":[5,2,1,1,2,2,8,3,1],"c8":[2,2,1,1,1,1,3,1,1]},
      {"t":27.7,"a":[180,157.5,135,112.5,90,67.5,45,22.5,0],"c1":[5,4,2,1,2,2,5,5,2],"c2":[6,4,2,1,1,3,6,3,1],"c3":[5,3,2,4,2,3,5,4,1],"c4":[4,2,4,2,3,3,7,4,1],"c5":[6,3,2,1,1,2,5,3,2],"c6":[6,3,2,1,1,3,8,3,1],"c7":[6,3,2,1,1,2,5,4,2],"c8":[3,2,1,1,1,1,2,2,1]},
      {"t":28.05,"a":[180,157.5,135,112.5,90,67.5,45,22.5,0],"c1":[6,3,2,2,1,2,8,4,1],"c2":[6,3,2,1,1,4,7,2,1],"c3":[5,4,2,3,3,2,6,2,1],"c4":[3,3,2,3,4,2,5,5,2],"c5":[6,3,1,1,2,3,6,2,1],"c6":[5,2,1,1,1,2,6,4,1],"c7":[4,3,1,1,1,3,7,3,1],"c8":[3,2,2,1,1,1,3,2,1]},
      {"t":28.39,"a":[180,157.5,135,112.5,90,67.5,45,22.5,0],"c1":[4,2,1,1,1,2,4,3,1],"c2":[7,5,3,1,1,2,5,3,1],"c3":[3,4,2,2,4,3,7,3,2],"c4":[4,3,2,3,2,4,5,4,2],"c5":[7,4,2,2,1,2,4,4,2],"c6":[6,4,2,1,1,2,9,4,1],"c7":[5,3,2,1,1,2,6,3,1],"c8":[4,2,1,1,1,2,2,2,2]},
      {"t":28.74,"a":[180,157.5,135,112.5,90,67.5,45,22.5,0],"c1":[5,3,2,1,2,3,9,5,1],"c2":[7,4,2,1,2,3,5,3,2],"c3":[4,3,3,2,3,4,6,3,2],"c4":[3,4,3,2,3,3,6,3,1],"c5":[5,4,2,1,1,3,6,3,1],"c6":[5,3,1,0,1,2,7,3,1],"c7":[5,2,1,1,2,2,8,3,1],"c8":[2,2,1,1,1,1,3,1,1]},
      {"t":29.08,"a":[180,157.5,135,112.5,90,67.5,45,22.5,0],"c1":[5,3,2,1,1,2,6,4,1],"c2":[5,4,3,2,1,3,6,4,1],"c3":[4,2,3,3,2,5,4,5,2],"c4":[5,3,2,4,2,5,4,3,2],"c5":[6,3,2,1,1,2,5,3,2],"c6":[6,3,2,1,1,3,8,3,1],"c7":[6,3,2,1,1,2,5,4,2],"c8":[2,2,2,6,2,1,2,1,1]},
      {"t":29.43,"a":[180,157.5,135,112.5,90,67.5,45,22.5,0],"c1":[4,3,2,1,1,3,7,3,1],"c2":[6,4,2,1,1,3,6,3,1],"c3":[5,3,2,4,2,3,5,4,1],"c4":[4,2,4,2,3,3,7,4,1],"c5":[6,3,1,1,2,3,6,2,1],"c6":[5,2,1,1,1,2,6,4,1],"c7":[4,3,1,1,1,3,7,3,1],"c8":[2,2,2,7,2,1,2,1,1]},
      {"t":29.77,"a":[180,157.5,135,112.5,90,67.5,45,22.5,0],"c1":[5,4,2,1,2,2,5,5,2],"c2":[6,3,2,1,1,4,7,2,1],"c3":[5,4,2,3,3,2,6,2,1],"c4":[3,3,2,3,4,2,5,5,2],"c5":[7,4,2,2,1,2,4,4,2],"c6":[6,4,2,1,1,2,9,4,1],"c7":[5,3,2,1,1,2,6,3,1],"c8":[3,2,2,6,2,1,2,2,1]}
    ],
    "zig": [
      {"s":0,"a":180,"t":0.1},{"s":0,"a":0,"t":0.2},{"s":1,"a":180,"t":0.45},{"s":1,"a":0,"t":0.55},{"s":2,"a":180,"t":0.79},{"s":2,"a":0,"t":0.89},
      {"s":3,"a":180,"t":1.14},{"s":3,"a":0,"t":1.24},{"s":4,"a":180,"t":1.48},{"s":4,"a":0,"t":1.58},{"s":5,"a":180,"t":1.83},{"s":5,"a":0,"t":1.93},
      {"s":6,"a":180,"t":2.17},{"s":6,"a":0,"t":2.27},{"s":7,"a":180,"t":2.52},{"s":7,"a":0,"t":2.62},{"s":8,"a":180,"t":2.86},{"s":8,"a":0,"t":2.96},
      {"s":9,"a":180,"t":3.21},{"s":9,"a":0,"t":3.31},{"s":10,"a":180,"t":3.55},{"s":10,"a":0,"t":3.65},{"s":11,"a":180,"t":3.9},{"s":11,"a":0,"t":4.0},
      {"s":12,"a":180,"t":4.24},{"s":12,"a":0,"t":4.34},{"s":13,"a":180,"t":4.59},{"s":13,"a":0,"t":4.69},{"s":14,"a":180,"t":4.93},{"s":14,"a":0,"t":5.03},
      {"s":15,"a":180,"t":5.28},{"s":15,"a":0,"t":5.38},{"s":16,"a":180,"t":5.62},{"s":16,"a":0,"t":5.72},{"s":17,"a":180,"t":5.97},{"s":17,"a":0,"t":6.07},
      {"s":18,"a":180,"t":6.31},{"s":18,"a":0,"t":6.41},{"s":19,"a":180,"t":6.66},{"s":19,"a":0,"t":6.76},{"s":20,"a":180,"t":7.0},{"s":20,"a":0,"t":7.1},
      {"s":21,"a":180,"t":7.35},{"s":21,"a":0,"t":7.45},{"s":22,"a":180,"t":7.69},{"s":22,"a":0,"t":7.79},{"s":23,"a":180,"t":8.04},{"s":23,"a":0,"t":8.14},
      {"s":24,"a":180,"t":8.38},{"s":24,"a":0,"t":8.48},{"s":25,"a":180,"t":8.73},{"s":25,"a":0,"t":8.83},{"s":26,"a":180,"t":9.07},{"s":26,"a":0,"t":9.17},
      {"s":27,"a":180,"t":9.42},{"s":27,"a":0,"t":9.52},{"s":28,"a":180,"t":9.76},{"s":28,"a":0,"t":9.86},{"s":29,"a":180,"t":10.11},{"s":29,"a":0,"t":10.21},
      {"s":30,"a":180,"t":10.45},{"s":30,"a":0,"t":10.55},{"s":31,"a":180,"t":10.8},{"s":31,"a":0,"t":10.9},{"s":32,"a":180,"t":11.14},{"s":32,"a":0,"t":11.24},
      {"s":33,"a":180,"t":11.49},{"s":33,"a":0,"t":11.59},{"s":34,"a":180,"t":11.83},{"s":34,"a":0,"t":11.93},{"s":35,"a":180,"t":12.18},{"s":35,"a":0,"t":12.28},
      {"s":36,"a":180,"t":12.52},{"s":36,"a":0,"t":12.62},{"s":37,"a":180,"t":12.87},{"s":37,"a":0,"t":12.97},{"s":38,"a":180,"t":13.21},{"s":38,"a":0,"t":13.31},
      {"s":39,"a":180,"t":13.56},{"s":39,"a":0,"t":13.66},{"s":40,"a":180,"t":13.9},{"s":40,"a":0,"t":14.0},{"s":41,"a":180,"t":14.25},{"s":41,"a":0,"t":14.35},
      {"s":42,"a":180,"t":14.59},{"s":42,"a":0,"t":14.69},{"s":43,"a":180,"t":14.94},{"s":43,"a":0,"t":15.04},{"s":44,"a":180,"t":15.28},{"s":44,"a":0,"t":15.38},
      {"s":45,"a":180,"t":15.63},{"s":45,"a":0,"t":15.73},{"s":46,"a":180,"t":15.97},{"s":46,"a":0,"t":16.07},{"s":47,"a":180,"t":16.32},{"s":47,"a":0,"t":16.42},
      {"s":48,"a":180,"t":16.66},{"s":48,"a":0,"t":16.76},{"s":49,"a":180,"t":17.01},{"s":49,"a":0,"t":17.11},{"s":50,"a":180,"t":17.35},{"s":50,"a":0,"t":17.45},
      {"s":51,"a":180,"t":17.7},{"s":51,"a":0,"t":17.8},{"s":52,"a":180,"t":18.04},{"s":52,"a":0,"t":18.14},{"s":53,"a":180,"t":18.39},{"s":53,"a":0,"t":18.49},
      {"s":54,"a":180,"t":18.73},{"s":54,"a":0,"t":18.83},{"s":55,"a":180,"t":19.08},{"s":55,"a":0,"t":19.18},{"s":56,"a":180,"t":19.42},{"s":56,"a":0,"t":19.52},
      {"s":57,"a":180,"t":19.77},{"s":57,"a":0,"t":19.87},{"s":58,"a":180,"t":20.11},{"s":58,"a":0,"t":20.21},{"s":59,"a":180,"t":20.46},{"s":59,"a":0,"t":20.56},
      {"s":60,"a":180,"t":20.8},{"s":60,"a":0,"t":20.9},{"s":61,"a":180,"t":21.15},{"s":61,"a":0,"t":21.25},{"s":62,"a":180,"t":21.49},{"s":62,"a":0,"t":21.59},
      {"s":63,"a":180,"t":21.84},{"s":63,"a":0,"t":21.94},{"s":64,"a":180,"t":22.18},{"s":64,"a":0,"t":22.28},{"s":65,"a":180,"t":22.53},{"s":65,"a":0,"t":22.63},
      {"s":66,"a":180,"t":22.87},{"s":66,"a":0,"t":22.97},{"s":67,"a":180,"t":23.22},{"s":67,"a":0,"t":23.32},{"s":68,"a":180,"t":23.56},{"s":68,"a":0,"t":23.66},
      {"s":69,"a":180,"t":23.91},{"s":69,"a":0,"t":24.01},{"s":70,"a":180,"t":24.25},{"s":70,"a":0,"t":24.35},{"s":71,"a":180,"t":24.6},{"s":71,"a":0,"t":24.7},
      {"s":72,"a":180,"t":24.94},{"s":72,"a":0,"t":25.04},{"s":73,"a":180,"t":25.29},{"s":73,"a":0,"t":25.39},{"s":74,"a":180,"t":25.63},{"s":74,"a":0,"t":25.73},
      {"s":75,"a":180,"t":25.98},{"s":75,"a":0,"t":26.08},{"s":76,"a":180,"t":26.32},{"s":76,"a":0,"t":26.42},{"s":77,"a":180,"t":26.67},{"s":77,"a":0,"t":26.77},
      {"s":78,"a":180,"t":27.01},{"s":78,"a":0,"t":27.11},{"s":79,"a":180,"t":27.36},{"s":79,"a":0,"t":27.46},{"s":80,"a":180,"t":27.7},{"s":80,"a":0,"t":27.8},
      {"s":81,"a":180,"t":28.05},{"s":81,"a":0,"t":28.15},{"s":82,"a":180,"t":28.39},{"s":82,"a":0,"t":28.49},{"s":83,"a":180,"t":28.74},{"s":83,"a":0,"t":28.84},
      {"s":84,"a":180,"t":29.08},{"s":84,"a":0,"t":29.18},{"s":85,"a":180,"t":29.43},{"s":85,"a":0,"t":29.53},{"s":86,"a":180,"t":29.77},{"s":86,"a":0,"t":29.87}
    ]
  },
  "data": {"name": "scans"},
  "transform": [{"flatten": ["a", "c1", "c2", "c3", "c4", "c5", "c6", "c7", "c8"]}],
  "spacing": 14,
  "bounds": "flush",
  "hconcat": [
    {
      "width": 41, "height": 697,
      "data": {"name": "zig"},
      "title": {"text": "2026 08/10 21:00:23UT - 2026 08/10 21:30:22UT", "orient": "left", "anchor": "end", "fontSize": 14.5, "fontWeight": "normal", "offset": -19},
      "layer": [
        {"mark": {"type": "line", "clip": true, "strokeWidth": 0.5, "opacity": 0.7},
         "encoding": {
           "x": {"field": "a", "type": "quantitative", "scale": {"domain": [0, 180], "reverse": true, "nice": false, "zero": false}, "axis": {"orient": "bottom", "values": [0, 22.5, 45, 67.5, 90, 112.5, 135, 157.5, 180], "title": "ANG", "labelExpr": "datum.value == 180 ? '180.0' : datum.value == 0 ? '0.0' : ''", "labelBaseline": {"condition": {"test": "datum.value == 180", "value": "top"}, "value": "bottom"}}},
           "y": {"field": "t", "type": "quantitative", "scale": {"domain": [0, 30], "nice": false, "zero": false}, "axis": {"orient": "left", "values": [0,1,2,3,4,5,6,7,8,9,10,11,12,13,14,15,16,17,18,19,20,21,22,23,24,25,26,27,28,29,30], "title": "22.5 (deg)/div"}},
           "order": {"field": "t", "type": "quantitative"}}},
        {"mark": {"type": "line", "clip": true, "strokeWidth": 1.5, "color": "#d40000"},
         "encoding": {
           "x": {"field": "a", "type": "quantitative", "axis": {"orient": "top", "values": [0, 22.5, 45, 67.5, 90, 112.5, 135, 157.5, 180], "labels": false, "title": null}},
           "y": {"field": "t", "type": "quantitative", "axis": {"orient": "right", "values": [0,1,2,3,4,5,6,7,8,9,10,11,12,13,14,15,16,17,18,19,20,21,22,23,24,25,26,27,28,29,30], "labels": false, "title": null}},
           "detail": {"field": "s"}}}
      ],
      "resolve": {"axis": {"x": "independent", "y": "independent"}}
    },
    {
      "width": 41, "height": 697,
      "transform": [{"calculate": "datum.t + 0.2 * datum.c1", "as": "y"}],
      "layer": [
        {"mark": {"type": "line", "clip": true},
         "encoding": {
           "x": {"field": "a", "type": "quantitative", "scale": {"domain": [0, 180], "reverse": true, "nice": false, "zero": false}, "axis": {"orient": "bottom", "values": [0, 22.5, 45, 67.5, 90, 112.5, 135, 157.5, 180], "title": "CH1", "labelExpr": "datum.value == 180 ? '180.0' : datum.value == 0 ? '0.0' : ''", "labelBaseline": {"condition": {"test": "datum.value == 180", "value": "top"}, "value": "bottom"}}},
           "y": {"field": "y", "type": "quantitative", "scale": {"domain": [0, 30], "nice": false, "zero": false}, "axis": {"orient": "left", "values": [0,1,2,3,4,5,6,7,8,9,10,11,12,13,14,15,16,17,18,19,20,21,22,23,24,25,26,27,28,29,30], "title": "22.5 (deg)/div"}},
           "detail": {"field": "t"}}},
        {"mark": {"type": "point", "opacity": 0},
         "encoding": {
           "x": {"field": "a", "type": "quantitative", "axis": {"orient": "top", "values": [0, 22.5, 45, 67.5, 90, 112.5, 135, 157.5, 180], "labels": false, "title": null}},
           "y": {"field": "t", "type": "quantitative", "axis": {"orient": "right", "values": [0,1,2,3,4,5,6,7,8,9,10,11,12,13,14,15,16,17,18,19,20,21,22,23,24,25,26,27,28,29,30], "labels": false, "title": null}}}}
      ],
      "resolve": {"axis": {"x": "independent", "y": "independent"}}
    },
    {
      "width": 41, "height": 697,
      "transform": [{"calculate": "datum.t + 0.2 * datum.c2", "as": "y"}],
      "layer": [
        {"mark": {"type": "line", "clip": true},
         "encoding": {
           "x": {"field": "a", "type": "quantitative", "scale": {"domain": [0, 180], "reverse": true, "nice": false, "zero": false}, "axis": {"orient": "bottom", "values": [0, 22.5, 45, 67.5, 90, 112.5, 135, 157.5, 180], "title": "CH2", "labelExpr": "datum.value == 180 ? '180.0' : datum.value == 0 ? '0.0' : ''", "labelBaseline": {"condition": {"test": "datum.value == 180", "value": "top"}, "value": "bottom"}}},
           "y": {"field": "y", "type": "quantitative", "scale": {"domain": [0, 30], "nice": false, "zero": false}, "axis": {"orient": "left", "values": [0,1,2,3,4,5,6,7,8,9,10,11,12,13,14,15,16,17,18,19,20,21,22,23,24,25,26,27,28,29,30], "title": "22.5 (deg)/div"}},
           "detail": {"field": "t"}}},
        {"mark": {"type": "point", "opacity": 0},
         "encoding": {
           "x": {"field": "a", "type": "quantitative", "axis": {"orient": "top", "values": [0, 22.5, 45, 67.5, 90, 112.5, 135, 157.5, 180], "labels": false, "title": null}},
           "y": {"field": "t", "type": "quantitative", "axis": {"orient": "right", "values": [0,1,2,3,4,5,6,7,8,9,10,11,12,13,14,15,16,17,18,19,20,21,22,23,24,25,26,27,28,29,30], "labels": false, "title": null}}}}
      ],
      "resolve": {"axis": {"x": "independent", "y": "independent"}}
    },
    {
      "width": 41, "height": 697,
      "transform": [{"calculate": "datum.t + 0.2 * datum.c3", "as": "y"}],
      "layer": [
        {"mark": {"type": "line", "clip": true},
         "encoding": {
           "x": {"field": "a", "type": "quantitative", "scale": {"domain": [0, 180], "reverse": true, "nice": false, "zero": false}, "axis": {"orient": "bottom", "values": [0, 22.5, 45, 67.5, 90, 112.5, 135, 157.5, 180], "title": "CH3", "labelExpr": "datum.value == 180 ? '180.0' : datum.value == 0 ? '0.0' : ''", "labelBaseline": {"condition": {"test": "datum.value == 180", "value": "top"}, "value": "bottom"}}},
           "y": {"field": "y", "type": "quantitative", "scale": {"domain": [0, 30], "nice": false, "zero": false}, "axis": {"orient": "left", "values": [0,1,2,3,4,5,6,7,8,9,10,11,12,13,14,15,16,17,18,19,20,21,22,23,24,25,26,27,28,29,30], "title": "22.5 (deg)/div"}},
           "detail": {"field": "t"}}},
        {"mark": {"type": "point", "opacity": 0},
         "encoding": {
           "x": {"field": "a", "type": "quantitative", "axis": {"orient": "top", "values": [0, 22.5, 45, 67.5, 90, 112.5, 135, 157.5, 180], "labels": false, "title": null}},
           "y": {"field": "t", "type": "quantitative", "axis": {"orient": "right", "values": [0,1,2,3,4,5,6,7,8,9,10,11,12,13,14,15,16,17,18,19,20,21,22,23,24,25,26,27,28,29,30], "labels": false, "title": null}}}}
      ],
      "resolve": {"axis": {"x": "independent", "y": "independent"}}
    },
    {
      "width": 41, "height": 697,
      "transform": [{"calculate": "datum.t + 0.2 * datum.c4", "as": "y"}],
      "layer": [
        {"mark": {"type": "line", "clip": true},
         "encoding": {
           "x": {"field": "a", "type": "quantitative", "scale": {"domain": [0, 180], "reverse": true, "nice": false, "zero": false}, "axis": {"orient": "bottom", "values": [0, 22.5, 45, 67.5, 90, 112.5, 135, 157.5, 180], "title": "CH4", "labelExpr": "datum.value == 180 ? '180.0' : datum.value == 0 ? '0.0' : ''", "labelBaseline": {"condition": {"test": "datum.value == 180", "value": "top"}, "value": "bottom"}}},
           "y": {"field": "y", "type": "quantitative", "scale": {"domain": [0, 30], "nice": false, "zero": false}, "axis": {"orient": "left", "values": [0,1,2,3,4,5,6,7,8,9,10,11,12,13,14,15,16,17,18,19,20,21,22,23,24,25,26,27,28,29,30], "title": "22.5 (deg)/div"}},
           "detail": {"field": "t"}}},
        {"mark": {"type": "point", "opacity": 0},
         "encoding": {
           "x": {"field": "a", "type": "quantitative", "axis": {"orient": "top", "values": [0, 22.5, 45, 67.5, 90, 112.5, 135, 157.5, 180], "labels": false, "title": null}},
           "y": {"field": "t", "type": "quantitative", "axis": {"orient": "right", "values": [0,1,2,3,4,5,6,7,8,9,10,11,12,13,14,15,16,17,18,19,20,21,22,23,24,25,26,27,28,29,30], "labels": false, "title": null}}}}
      ],
      "resolve": {"axis": {"x": "independent", "y": "independent"}}
    },
    {
      "width": 41, "height": 697,
      "transform": [{"calculate": "datum.t + 0.2 * datum.c5", "as": "y"}],
      "layer": [
        {"mark": {"type": "line", "clip": true},
         "encoding": {
           "x": {"field": "a", "type": "quantitative", "scale": {"domain": [0, 180], "reverse": true, "nice": false, "zero": false}, "axis": {"orient": "bottom", "values": [0, 22.5, 45, 67.5, 90, 112.5, 135, 157.5, 180], "title": "CH5", "labelExpr": "datum.value == 180 ? '180.0' : datum.value == 0 ? '0.0' : ''", "labelBaseline": {"condition": {"test": "datum.value == 180", "value": "top"}, "value": "bottom"}}},
           "y": {"field": "y", "type": "quantitative", "scale": {"domain": [0, 30], "nice": false, "zero": false}, "axis": {"orient": "left", "values": [0,1,2,3,4,5,6,7,8,9,10,11,12,13,14,15,16,17,18,19,20,21,22,23,24,25,26,27,28,29,30], "title": "22.5 (deg)/div"}},
           "detail": {"field": "t"}}},
        {"mark": {"type": "point", "opacity": 0},
         "encoding": {
           "x": {"field": "a", "type": "quantitative", "axis": {"orient": "top", "values": [0, 22.5, 45, 67.5, 90, 112.5, 135, 157.5, 180], "labels": false, "title": null}},
           "y": {"field": "t", "type": "quantitative", "axis": {"orient": "right", "values": [0,1,2,3,4,5,6,7,8,9,10,11,12,13,14,15,16,17,18,19,20,21,22,23,24,25,26,27,28,29,30], "labels": false, "title": null}}}}
      ],
      "resolve": {"axis": {"x": "independent", "y": "independent"}}
    },
    {
      "width": 41, "height": 697,
      "transform": [{"calculate": "datum.t + 0.2 * datum.c6", "as": "y"}],
      "layer": [
        {"mark": {"type": "line", "clip": true},
         "encoding": {
           "x": {"field": "a", "type": "quantitative", "scale": {"domain": [0, 180], "reverse": true, "nice": false, "zero": false}, "axis": {"orient": "bottom", "values": [0, 22.5, 45, 67.5, 90, 112.5, 135, 157.5, 180], "title": "CH6", "labelExpr": "datum.value == 180 ? '180.0' : datum.value == 0 ? '0.0' : ''", "labelBaseline": {"condition": {"test": "datum.value == 180", "value": "top"}, "value": "bottom"}}},
           "y": {"field": "y", "type": "quantitative", "scale": {"domain": [0, 30], "nice": false, "zero": false}, "axis": {"orient": "left", "values": [0,1,2,3,4,5,6,7,8,9,10,11,12,13,14,15,16,17,18,19,20,21,22,23,24,25,26,27,28,29,30], "title": "22.5 (deg)/div"}},
           "detail": {"field": "t"}}},
        {"mark": {"type": "point", "opacity": 0},
         "encoding": {
           "x": {"field": "a", "type": "quantitative", "axis": {"orient": "top", "values": [0, 22.5, 45, 67.5, 90, 112.5, 135, 157.5, 180], "labels": false, "title": null}},
           "y": {"field": "t", "type": "quantitative", "axis": {"orient": "right", "values": [0,1,2,3,4,5,6,7,8,9,10,11,12,13,14,15,16,17,18,19,20,21,22,23,24,25,26,27,28,29,30], "labels": false, "title": null}}}}
      ],
      "resolve": {"axis": {"x": "independent", "y": "independent"}}
    },
    {
      "width": 41, "height": 697,
      "transform": [{"calculate": "datum.t + 0.2 * datum.c7", "as": "y"}],
      "layer": [
        {"mark": {"type": "line", "clip": true},
         "encoding": {
           "x": {"field": "a", "type": "quantitative", "scale": {"domain": [0, 180], "reverse": true, "nice": false, "zero": false}, "axis": {"orient": "bottom", "values": [0, 22.5, 45, 67.5, 90, 112.5, 135, 157.5, 180], "title": "CH7", "labelExpr": "datum.value == 180 ? '180.0' : datum.value == 0 ? '0.0' : ''", "labelBaseline": {"condition": {"test": "datum.value == 180", "value": "top"}, "value": "bottom"}}},
           "y": {"field": "y", "type": "quantitative", "scale": {"domain": [0, 30], "nice": false, "zero": false}, "axis": {"orient": "left", "values": [0,1,2,3,4,5,6,7,8,9,10,11,12,13,14,15,16,17,18,19,20,21,22,23,24,25,26,27,28,29,30], "title": "22.5 (deg)/div"}},
           "detail": {"field": "t"}}},
        {"mark": {"type": "point", "opacity": 0},
         "encoding": {
           "x": {"field": "a", "type": "quantitative", "axis": {"orient": "top", "values": [0, 22.5, 45, 67.5, 90, 112.5, 135, 157.5, 180], "labels": false, "title": null}},
           "y": {"field": "t", "type": "quantitative", "axis": {"orient": "right", "values": [0,1,2,3,4,5,6,7,8,9,10,11,12,13,14,15,16,17,18,19,20,21,22,23,24,25,26,27,28,29,30], "labels": false, "title": null}}}}
      ],
      "resolve": {"axis": {"x": "independent", "y": "independent"}}
    },
    {
      "width": 41, "height": 697,
      "transform": [{"calculate": "datum.t + 0.2 * datum.c8", "as": "y"}],
      "layer": [
        {"mark": {"type": "line", "clip": true},
         "encoding": {
           "x": {"field": "a", "type": "quantitative", "scale": {"domain": [0, 180], "reverse": true, "nice": false, "zero": false}, "axis": {"orient": "bottom", "values": [0, 22.5, 45, 67.5, 90, 112.5, 135, 157.5, 180], "title": "CH8", "labelExpr": "datum.value == 180 ? '180.0' : datum.value == 0 ? '0.0' : ''", "labelBaseline": {"condition": {"test": "datum.value == 180", "value": "top"}, "value": "bottom"}}},
           "y": {"field": "y", "type": "quantitative", "scale": {"domain": [0, 30], "nice": false, "zero": false}, "axis": {"orient": "left", "values": [0,1,2,3,4,5,6,7,8,9,10,11,12,13,14,15,16,17,18,19,20,21,22,23,24,25,26,27,28,29,30], "title": "22.5 (deg)/div"}},
           "detail": {"field": "t"}}},
        {"mark": {"type": "point", "opacity": 0},
         "encoding": {
           "x": {"field": "a", "type": "quantitative", "axis": {"orient": "top", "values": [0, 22.5, 45, 67.5, 90, 112.5, 135, 157.5, 180], "labels": false, "title": null}},
           "y": {"field": "t", "type": "quantitative", "axis": {"orient": "right", "values": [0,1,2,3,4,5,6,7,8,9,10,11,12,13,14,15,16,17,18,19,20,21,22,23,24,25,26,27,28,29,30], "labels": true, "labelExpr": "datum.value % 10 == 0 ? '' + (2100 + datum.value) : ''", "labelAngle": 270, "labelFontSize": 13, "labelPadding": 3, "labelAlign": "center", "labelBaseline": "top", "title": "TIME(UT)", "titleAngle": 270, "titleFontSize": 14, "titleBaseline": "top", "titlePadding": 12}}}}
      ],
      "resolve": {"axis": {"x": "independent", "y": "independent"}}
    }
  ]
}
